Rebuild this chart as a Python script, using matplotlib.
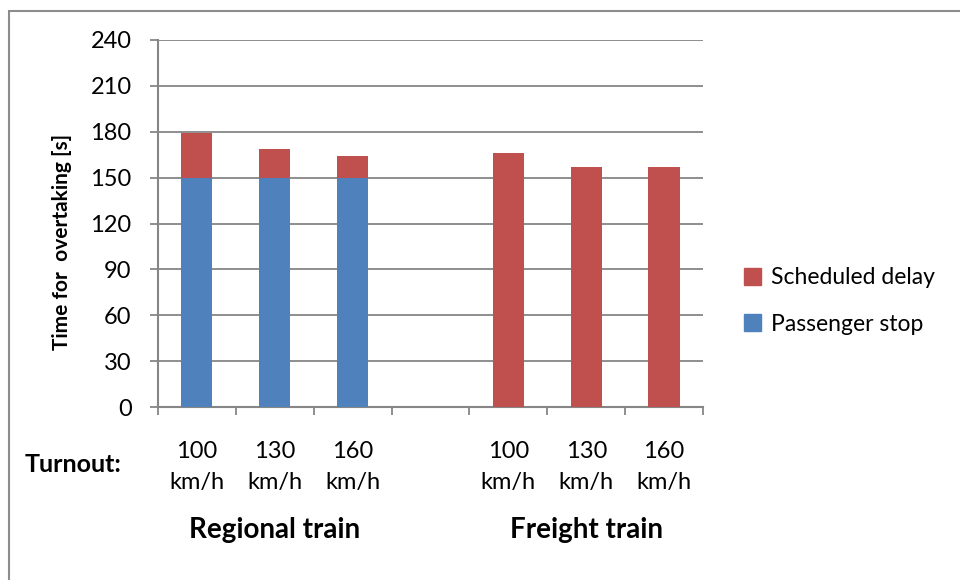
import matplotlib
matplotlib.use("Agg")
import matplotlib.pyplot as plt
from matplotlib.patches import Rectangle, Patch
import numpy as np

plt.rcParams['font.family'] = ['Lato', 'DejaVu Sans']

# Data
groups = ["Regional train", "Freight train"]
speeds = ["100\nkm/h", "130\nkm/h", "160\nkm/h"]
passenger_stop = {"Regional train": [150, 150, 150], "Freight train": [0, 0, 0]}
scheduled_delay = {"Regional train": [29, 19, 14], "Freight train": [166, 157, 157]}
y_ticks = [0, 30, 60, 90, 120, 150, 180, 210, 240]

blue = "#4F81BD"
red = "#C0504D"
grid_c = "#868686"

W, H = 960, 580
fig = plt.figure(figsize=(9.6, 5.8), dpi=100)
ax = fig.add_axes([158/W, 1-407/H, (703-158)/W, (407-40)/H])

# slot positions: 3 regional, one empty gap slot, 3 freight
positions = {"Regional train": [0, 1, 2], "Freight train": [4, 5, 6]}
width = 0.4
for g in groups:
    x = np.array(positions[g])
    ps = np.array(passenger_stop[g])
    sd = np.array(scheduled_delay[g])
    ax.bar(x, ps, width, color=blue, zorder=3)
    ax.bar(x, sd, width, bottom=ps, color=red, zorder=3)

ax.set_xlim(-0.5, 6.5)
ax.set_ylim(0, 240)
ax.set_yticks(y_ticks)
ax.set_yticklabels([str(v) for v in y_ticks], fontsize=17)
ax.yaxis.grid(True, color=grid_c, linewidth=1.3, zorder=0)
ax.set_axisbelow(True)
for s in ["top", "right"]:
    ax.spines[s].set_visible(False)
for s in ["left", "bottom"]:
    ax.spines[s].set_color(grid_c)
    ax.spines[s].set_linewidth(1.5)
ax.tick_params(axis="y", length=6, width=1.3, color=grid_c, pad=13, direction="out")
ax.set_xticks(np.arange(-0.5, 7, 1))
ax.set_xticklabels([])
ax.tick_params(axis="x", length=6, width=1.3, color=grid_c, direction="out")

fig.text(62/W, 1-242/H, "Time for  overtaking [s]", rotation=90, ha="center",
         va="center", fontsize=15, fontweight="bold")

# category labels under the axis
for g in groups:
    for x, lab in zip(positions[g], speeds):
        xf = fig.transFigure.inverted().transform(ax.transData.transform((x, 0)))[0]
        fig.text(xf, 1-467/H, lab, ha="center", va="center",
                 fontsize=17, linespacing=1.55)
    xm = fig.transFigure.inverted().transform(
        ax.transData.transform((np.mean(positions[g]), 0)))[0]
    fig.text(xm, 1-530/H, g, ha="center", va="center", fontsize=20,
             fontweight="bold")
fig.text(25/W, 1-465/H, "Turnout:", ha="left", va="center",
         fontsize=18, fontweight="bold")

handles = [Patch(color=red, label="Scheduled delay"),
           Patch(color=blue, label="Passenger stop")]
fig.legend(handles=handles, loc="center left", bbox_to_anchor=(723/W, 1-301/H),
           frameon=False, fontsize=16.5, handlelength=0.75, handleheight=0.75,
           handletextpad=0.45, labelspacing=1.1)

# outer chart frame
fig.patches.append(Rectangle((9/W, -0.1), 1.2, 1.1 - 11/H,
                             transform=fig.transFigure, fill=False,
                             edgecolor="#8c8c8c", linewidth=1.5))

fig.savefig("out.png", dpi=100)
